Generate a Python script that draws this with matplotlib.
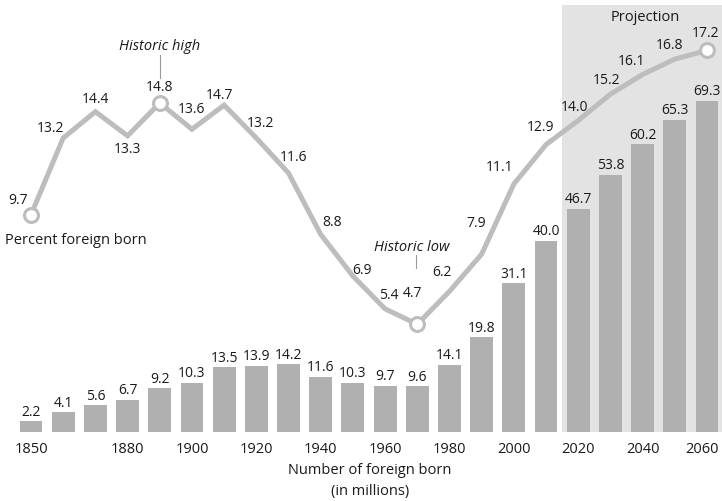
import matplotlib.pyplot as plt
from matplotlib.transforms import ScaledTranslation

plt.rcParams['font.family'] = ['Open Sans', 'DejaVu Sans']

years = list(range(1850, 2061, 10))
foreign_born = [2.2, 4.1, 5.6, 6.7, 9.2, 10.3, 13.5, 13.9, 14.2, 11.6, 10.3,
                9.7, 9.6, 14.1, 19.8, 31.1, 40.0, 46.7, 53.8, 60.2, 65.3, 69.3]
percent = [9.7, 13.2, 14.4, 13.3, 14.8, 13.6, 14.7, 13.2, 11.6, 8.8, 6.9,
           5.4, 4.7, 6.2, 7.9, 11.1, 12.9, 14.0, 15.2, 16.1, 16.8, 17.2]
tick_years = [1850, 1880, 1900, 1920, 1940, 1960, 1980, 2000, 2020, 2040, 2060]
circled = [1850, 1890, 1970, 2060]

# label offsets for the percent line, in pixels (dx, dy up)
pct_offsets = [(-13, 14), (-13, 10), (0, 12), (0, -14), (0, 15), (0, 20),
               (-5, 10), (4, 15), (5, 16), (11, 12), (9, 6), (4, 13),
               (-5, 31), (-8, 19), (-5, 31), (-14, 17), (-6, 17), (-4, 13),
               (-4, 14), (-11, 13), (-5, 14), (-1, 17)]

bar_color = '#b0b0b0'
line_color = '#bdbdbd'
shade_color = '#e3e3e3'
text_color = '#1a1a1a'

fig = plt.figure(figsize=(7.22, 5.01), dpi=100)
ax = fig.add_axes([0, 69 / 501, 1, 432 / 501])
ax.set_xlim(1840.37, 2064.66)
ax.set_ylim(0, 90.4)

ax.axvspan(2015, 2070, ymin=0, ymax=0.988, color=shade_color, lw=0, zorder=0)
ax.bar(years, foreign_born, width=7.1, color=bar_color, zorder=2)
for x, v in zip(years, foreign_born):
    ax.annotate(f'{v:.1f}', (x, v), xytext=(0, 9), textcoords='offset pixels',
                ha='center', va='center', fontsize=10, color=text_color)

ax.set_xticks(tick_years)
ax.set_xticklabels([str(y) for y in tick_years])
ax.tick_params(axis='x', length=0, pad=7, labelsize=10.5, colors=text_color)
# nudge the last year label so it stays inside the figure
last = ax.get_xticklabels()[-1]
last.set_transform(last.get_transform()
                   + ScaledTranslation(-5 / 100, 0, fig.dpi_scale_trans))
ax.set_yticks([])
for s in ax.spines.values():
    s.set_visible(False)

ax2 = ax.twinx()
ax2.set_ylim(-0.22, 19.5)
ax2.set_yticks([])
for s in ax2.spines.values():
    s.set_visible(False)

ax2.plot(years, percent, color=line_color, lw=3.6, solid_joinstyle='miter',
         zorder=3)
cx = [y for y in years if y in circled]
cy = [p for y, p in zip(years, percent) if y in circled]
ax2.plot(cx, cy, 'o', ms=10, mfc='white', mec=line_color, mew=2.2, zorder=4)
for x, v, (dx, dy) in zip(years, percent, pct_offsets):
    ax2.annotate(f'{v:.1f}', (x, v), xytext=(dx, dy), textcoords='offset pixels',
                 ha='center', va='center', fontsize=10, color=text_color)

ax2.text(1841.9, 8.54, 'Percent foreign born', ha='left', va='center',
         fontsize=10.5, color=text_color)
ax2.text(2040.7, 18.68, 'Projection', ha='center', va='center',
         fontsize=10.5, color=text_color)

# callouts for the historic high and low
ax2.text(1890, 17.4, 'Historic high', ha='center', va='center', fontsize=10.5,
         style='italic', color=text_color)
ax2.plot([1890, 1890], [17.0, 15.94], color='#999999', lw=0.8)
ax2.text(1968.4, 8.2, 'Historic low', ha='center', va='center', fontsize=10.5,
         style='italic', color=text_color)
ax2.plot([1969.6, 1969.6], [7.86, 7.27], color='#999999', lw=0.8)

fig.text(370 / 722, 1 - 471 / 501, 'Number of foreign born', ha='center',
         va='center', fontsize=10.5, color=text_color)
fig.text(370 / 722, 1 - 492 / 501, '(in millions)', ha='center',
         va='center', fontsize=10.5, color=text_color)

fig.savefig('out.png', dpi=100)
